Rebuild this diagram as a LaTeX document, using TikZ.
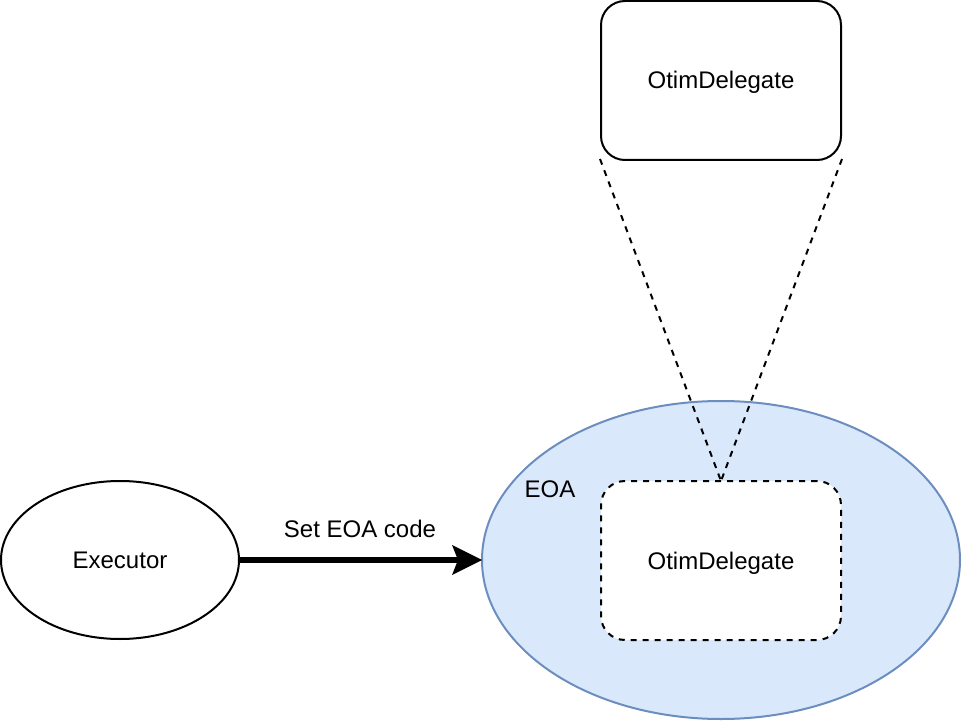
\documentclass[tikz,border=0pt]{standalone}
\usepackage{fontspec}
\setmainfont{Liberation Sans}
\usetikzlibrary{arrows.meta,shapes.geometric}
\definecolor{eoafill}{HTML}{DAE8FC}
\definecolor{eoaline}{HTML}{6C8EBF}
\begin{document}
\begin{tikzpicture}[x=1pt,y=-1pt,
  lbl/.style={font=\fontsize{24}{28}\selectfont, inner sep=0pt},
  boxstyle/.style={draw=black, line width=2pt, rounded corners=24pt, minimum width=240pt, minimum height=159pt, inner sep=0pt, font=\fontsize{24}{28}\selectfont, text height=17pt, text depth=0pt},
  dashedline/.style={draw=black, line width=2pt, dash pattern=on 6pt off 6pt}
]
\useasboundingbox (0,0) rectangle (962,722);
% Executor
\node[draw=black, line width=2pt, ellipse, minimum width=238pt, minimum height=158pt, inner sep=0pt, lbl, text height=17pt, text depth=0pt] (exec) at (120,560) {Executor};
% EOA ellipse
\node[draw=eoaline, fill=eoafill, line width=2pt, ellipse, minimum width=478pt, minimum height=318pt, inner sep=0pt] (eoa) at (721,560) {};
\node[lbl, anchor=base] (eoalbl) at (550,497) {EOA};
% inner delegate
\node[boxstyle, fill=white, dashedline] (inner) at (721,560.5) {OtimDelegate};
% top delegate
\node[boxstyle, fill=white] (top) at (721,80.5) {OtimDelegate};
% dashed zoom lines
\coordinate (apex) at (721,481);
\draw[dashedline] (top.south west) ++(0,-2) -- (apex);
\draw[dashedline] (top.south east) ++(0,-2) -- (apex);
% arrow
\draw[line width=6pt, -{Stealth[length=30pt, width=30pt, inset=6pt, line width=0pt]}, shorten >=-1pt] (exec.east) -- (eoa.west);
\node[lbl, anchor=base] (arrlbl) at (360,537) {Set EOA code};
\end{tikzpicture}
\end{document}
